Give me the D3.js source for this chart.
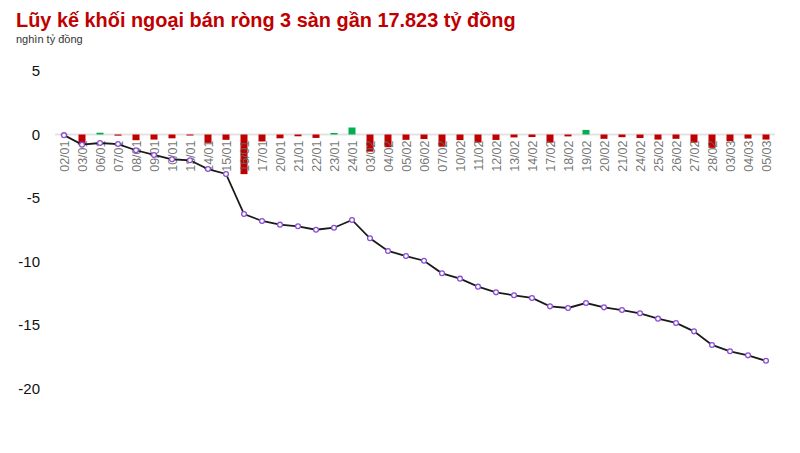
<!DOCTYPE html>
<html>
<head>
<meta charset="utf-8">
<script src="https://cdn.jsdelivr.net/npm/d3@7"></script>
<style>
  body { margin: 0; background: #fff; }
  svg { display: block; font-family: "Liberation Sans", Arial, sans-serif; }
</style>
</head>
<body>
<div id="chart"></div>
<script>
// Ngày giao dịch
const days = ["02/01","03/01","06/01","07/01","08/01","09/01","10/01","13/01","14/01","15/01",
  "16/01","17/01","20/01","21/01","22/01","23/01","24/01","03/02","04/02","05/02",
  "06/02","07/02","10/02","11/02","12/02","13/02","14/02","17/02","18/02","19/02",
  "20/02","21/02","24/02","25/02","26/02","27/02","28/02","03/03","04/03","05/03"];

// Giá trị ròng theo ngày (nghìn tỷ đồng)
const daily = [-0.05,-0.80,0.14,-0.09,-0.45,-0.40,-0.30,-0.08,-0.66,-0.42,
  -3.12,-0.55,-0.30,-0.14,-0.27,0.12,0.55,-1.35,-1.00,-0.42,
  -0.36,-0.96,-0.44,-0.63,-0.43,-0.23,-0.20,-0.64,-0.15,0.36,
  -0.34,-0.21,-0.28,-0.40,-0.34,-0.64,-1.05,-0.52,-0.32,-0.40];

// Lũy kế
const cumulative = [-0.05,-0.80,-0.67,-0.75,-1.24,-1.61,-1.95,-2.03,-2.72,-3.11,
  -6.26,-6.81,-7.10,-7.23,-7.50,-7.34,-6.73,-8.17,-9.17,-9.57,
  -9.94,-10.93,-11.35,-11.98,-12.43,-12.66,-12.87,-13.53,-13.66,-13.27,
  -13.61,-13.82,-14.08,-14.50,-14.84,-15.50,-16.57,-17.07,-17.39,-17.82];

const yTicks = [5, 0, -5, -10, -15, -20];

const width = 800, height = 453;

const svg = d3.select("#chart")
    .append("svg")
    .attr("width", width)
    .attr("height", height);

// Title
svg.append("text")
    .attr("x", 16)
    .attr("y", 27)
    .attr("fill", "#c00000")
    .style("font-size", "19.9px")
    .style("font-weight", "bold")
    .text("Lũy kế khối ngoại bán ròng 3 sàn gần 17.823 tỷ đồng");

svg.append("text")
    .attr("x", 16)
    .attr("y", 43)
    .attr("fill", "#333")
    .style("font-size", "11px")
    .text("nghìn tỷ đồng");

// Scales
const x = d3.scalePoint()
    .domain(days)
    .range([64, 766]);

const y = d3.scaleLinear()
    .domain([-20, 5])
    .range([388.5, 71]);

// Y labels
svg.append("g")
    .selectAll("text")
    .data(yTicks)
    .join("text")
    .attr("x", 40)
    .attr("y", d => y(d))
    .attr("dy", "0.35em")
    .attr("text-anchor", "end")
    .attr("fill", "#111")
    .style("font-size", "15px")
    .text(d => d);

// zero line
svg.append("line")
    .attr("x1", 55)
    .attr("x2", 775)
    .attr("y1", y(0))
    .attr("y2", y(0))
    .attr("stroke", "#e3e3e3")
    .attr("stroke-width", 2);

// Bars
const barW = 7;
svg.append("g")
    .selectAll("rect")
    .data(days)
    .join("rect")
    .attr("x", d => x(d) - barW / 2)
    .attr("width", barW)
    .attr("y", (d, i) => y(Math.max(0, daily[i])))
    .attr("height", (d, i) => Math.abs(y(daily[i]) - y(0)))
    .attr("fill", (d, i) => daily[i] >= 0 ? "#00b050" : "#c00000");

// X labels (rotated)
svg.append("g")
    .selectAll("text")
    .data(days)
    .join("text")
    .attr("transform", d => `translate(${x(d) + 4.5},${y(0) + 6}) rotate(-90)`)
    .attr("text-anchor", "end")
    .attr("fill", "#666")
    .attr("fill-opacity", 0.9)
    .style("font-size", "12.5px")
    .text(d => d);

// Line
const line = d3.line()
    .x((d, i) => x(days[i]))
    .y(d => y(d));

svg.append("path")
    .datum(cumulative)
    .attr("fill", "none")
    .attr("stroke", "#1a1a1a")
    .attr("stroke-width", 1.8)
    .attr("d", line);

svg.append("g")
    .selectAll("circle")
    .data(cumulative)
    .join("circle")
    .attr("cx", (d, i) => x(days[i]))
    .attr("cy", d => y(d))
    .attr("r", 2.4)
    .attr("fill", "#fff")
    .attr("stroke", "#8a4fd0")
    .attr("stroke-width", 1.3);
</script>
</body>
</html>
